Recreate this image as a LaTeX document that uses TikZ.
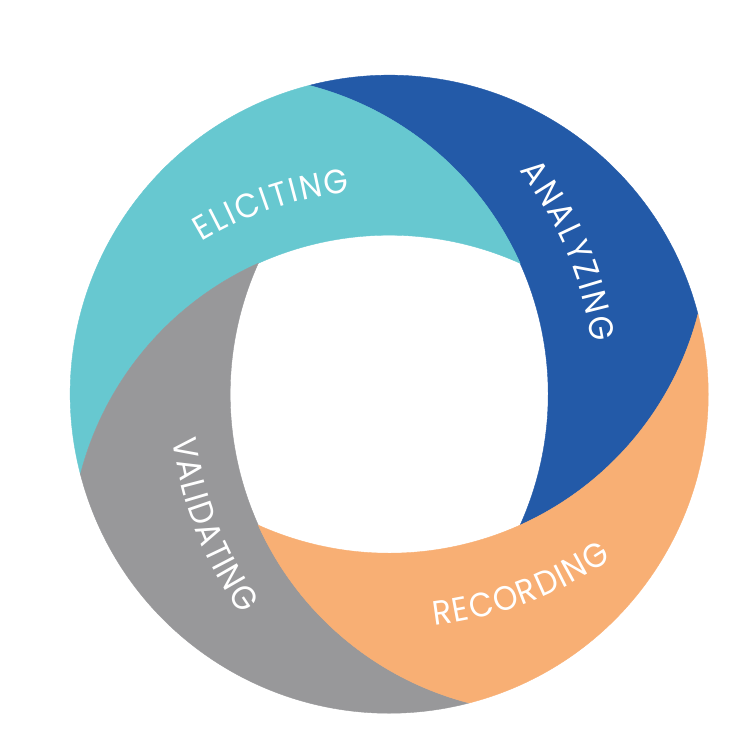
\documentclass[tikz,border=0pt]{standalone}
\usepackage{fontspec}
\setmainfont{Poppins}[FakeStretch=0.92]
\usetikzlibrary{decorations.text}
\definecolor{cTeal}{RGB}{103,200,208}
\definecolor{cBlue}{RGB}{35,90,168}
\definecolor{cOrange}{RGB}{248,175,116}
\definecolor{cGrey}{RGB}{152,152,154}
\newcommand\segpath[1]{(#1+104.52:319) arc[start angle=#1+104.52, end angle=#1+14.52, radius=319] arc[start angle=#1-14.52, end angle=#1-65.77, radius=319] arc[start angle=#1-24.23, end angle=#1+75.48, radius=319] -- cycle}
\newcommand\labfont{\fontsize{34}{34}\selectfont}
\begin{document}
\begin{tikzpicture}[x=1pt,y=1pt,
  segfill/.style={fill=#1, draw=#1, line width=0.4pt},
  lab/.style={decorate, decoration={text along path, text color=white, text align=fit to path, text={|\labfont|#1}}}]
\useasboundingbox (-389.2,-355.8) rectangle (360.8,394.2);
\path[segfill=cBlue] \segpath{0};
\path[segfill=cTeal] \segpath{90};
\path[segfill=cGrey] \segpath{180};
\path[segfill=cOrange] \segpath{270};
\path[lab=ELICITING] ([shift={(0,-160)}]121:364.5) arc[start angle=121, end angle=96.2, radius=364.5];
\path[lab=ANALYZING] ([shift={(-160,0)}]37.6:366) arc[start angle=37.6, end angle=8.2, radius=366];
\path[lab=RECORDING] ([shift={(0,160)}]-83.4:394) arc[start angle=-83.4, end angle=-55.6, radius=394];
\path[lab=VALIDATING] ([shift={(160,0)}]186.8:379) arc[start angle=186.8, end angle=215.5, radius=379];
\end{tikzpicture}
\end{document}
